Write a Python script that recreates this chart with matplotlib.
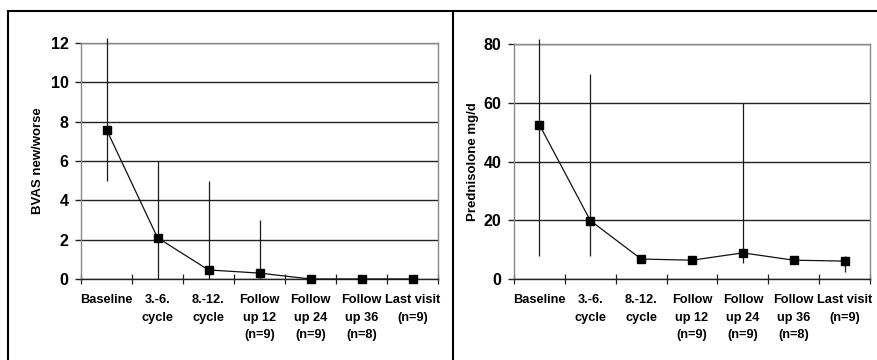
import matplotlib
matplotlib.use("Agg")
import matplotlib.pyplot as plt
from matplotlib.lines import Line2D
import numpy as np

categories = ["Baseline", "3.-6.\ncycle", "8.-12.\ncycle", "Follow\nup 12\n(n=9)",
              "Follow\nup 24\n(n=9)", "Follow\nup 36\n(n=8)", "Last visit\n(n=9)"]

bvas_mean = [7.6, 2.1, 0.46, 0.3, 0.0, 0.0, 0.0]
bvas_low = [5.0, 0.0, 0.0, 0.0, 0.0, 0.0, 0.0]
bvas_high = [12.25, 6.0, 5.0, 3.0, 0.0, 0.0, 0.0]

pred_mean = [52.5, 19.9, 6.8, 6.4, 8.9, 6.4, 6.1]
pred_low = [7.7, 7.7, 5.8, 6.0, 5.3, 6.0, 2.5]
pred_high = [81.7, 69.8, 8.0, 7.0, 59.9, 7.0, 7.9]

bvas_ticks = [0, 2, 4, 6, 8, 10, 12]
pred_ticks = [0, 20, 40, 60, 80]

plt.rcParams['font.family'] = ['Liberation Sans', 'DejaVu Sans']
plt.rcParams['font.weight'] = 'bold'

W, H = 877, 360
fig = plt.figure(figsize=(W / 100, H / 100), dpi=100)


def px_axes(x0, x1, ytop, ybot):
    return fig.add_axes([x0 / W, 1 - ybot / H, (x1 - x0) / W, (ybot - ytop) / H])


def draw(ax, mean, low, high, ticks, ylabel, labelpad):
    x = np.arange(len(categories))
    ax.set_xlim(-0.5, len(categories) - 0.5)
    ax.set_ylim(ticks[0], ticks[-1])
    ax.set_yticks(ticks)
    ax.set_yticklabels([str(t) for t in ticks], fontsize=11.5, fontweight='bold')
    ax.yaxis.grid(True, color='#222222', linewidth=1.0)
    ax.set_axisbelow(True)
    for s in ['left', 'top', 'right']:
        ax.spines[s].set_color('#888888')
        ax.spines[s].set_linewidth(1.0)
    ax.spines['bottom'].set_color('#222222')
    ax.spines['bottom'].set_linewidth(1.0)
    ax.tick_params(axis='y', direction='out', length=4, width=1.0, color='#222222', pad=5)
    ax.set_xticks(x)
    ax.set_xticklabels(categories, fontsize=9.2, fontweight='bold', linespacing=1.6)
    ax.tick_params(axis='x', which='major', length=0, pad=11)
    ax.set_xticks(np.arange(len(categories) + 1) - 0.5, minor=True)
    ax.tick_params(axis='x', which='minor', direction='inout', length=7, width=0.9, color='#222222')
    ax.vlines(x, low, high, color='#1a1a1a', linewidth=0.9, clip_on=False, zorder=3)
    ax.plot(x, mean, color='#111111', linewidth=0.9, marker='s', markersize=5.2,
            markerfacecolor='black', markeredgecolor='black', clip_on=False, zorder=4)
    ax.set_ylabel(ylabel, fontsize=9.5, fontweight='bold', labelpad=labelpad)


ax1 = px_axes(81, 438, 43, 279)
draw(ax1, bvas_mean, bvas_low, bvas_high, bvas_ticks, "BVAS new/worse", 5)

ax2 = px_axes(514, 870, 44, 279)
draw(ax2, pred_mean, pred_low, pred_high, pred_ticks, "Prednisolone mg/d", 3)

# outer panel frame
ytop = 1 - 11 / H
fig.add_artist(Line2D([8 / W, 1.0], [ytop, ytop], transform=fig.transFigure, color='black', linewidth=1.5))
fig.add_artist(Line2D([8 / W, 8 / W], [0, ytop], transform=fig.transFigure, color='black', linewidth=1.5))
fig.add_artist(Line2D([453 / W, 453 / W], [0, ytop], transform=fig.transFigure, color='black', linewidth=1.5))

fig.savefig("out.png", dpi=100)
